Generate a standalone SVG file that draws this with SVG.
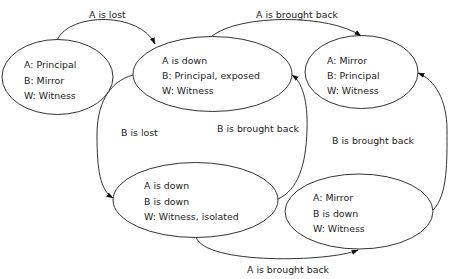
<svg xmlns="http://www.w3.org/2000/svg" width="450" height="279" viewBox="0 0 450 279">
<style>
  .st { fill: #ffffff; stroke: #333333; stroke-width: 1; }
  .tx { font-family: "DejaVu Sans", Verdana, sans-serif; font-size: 9.4px; fill: #222222; }
  .cn { fill: none; stroke: #333333; stroke-width: 1; marker-end: url(#ah); }
</style>
<defs>
  <marker id="ah" markerWidth="7" markerHeight="6" refX="6.5" refY="3" orient="auto" markerUnits="userSpaceOnUse">
    <path d="M0,0.5 L7,3 L0,5.5 Z" fill="#111111"/>
  </marker>
</defs>
<rect width="450" height="279" fill="#ffffff"/>
<g id="n1">
  <ellipse class="st" cx="57.5" cy="77" rx="55.5" ry="37.5"/>
  <text class="tx" x="24" y="68">A: Principal</text>
  <text class="tx" x="24" y="83.5">B: Mirror</text>
  <text class="tx" x="24" y="98.5">W: Witness</text>
</g>
<g id="n2">
  <ellipse class="st" cx="212.5" cy="74" rx="79.5" ry="37.5"/>
  <text class="tx" x="162" y="63.5">A is down</text>
  <text class="tx" x="162" y="78.5">B: Principal, exposed</text>
  <text class="tx" x="162" y="93.5">W: Witness</text>
</g>
<g id="n3">
  <ellipse class="st" cx="361.5" cy="72" rx="56.5" ry="36.5"/>
  <text class="tx" x="327" y="63.5">A: Mirror</text>
  <text class="tx" x="327" y="78.5">B: Principal</text>
  <text class="tx" x="327" y="93.5">W: Witness</text>
</g>
<g id="n4">
  <ellipse class="st" cx="195.5" cy="200" rx="82.5" ry="37.5"/>
  <text class="tx" x="144" y="189">A is down</text>
  <text class="tx" x="144" y="204.5">B is down</text>
  <text class="tx" x="144" y="219.5">W: Witness, isolated</text>
</g>
<g id="n5">
  <ellipse class="st" cx="359" cy="211.5" rx="74" ry="37.5"/>
  <text class="tx" x="313" y="201">A: Mirror</text>
  <text class="tx" x="313" y="216.5">B is down</text>
  <text class="tx" x="313" y="231.5">W: Witness</text>
</g>
<g id="connectors">
  <path class="cn" d="M57,40 C70,12 140,12 155,44"/>
  <text class="tx" x="89" y="17.5">A is lost</text>
  <path class="cn" d="M212,36 C240,14 330,14 361,36"/>
  <text class="tx" x="256" y="17.5">A is brought back</text>
  <path class="cn" d="M133,75 C108,82 97,105 97,135 C97,170 100,190 113,198"/>
  <text class="tx" x="121" y="135.5">B is lost</text>
  <path class="cn" d="M278,199 C298,190 306,165 307,130 C308,100 302,82 292,75"/>
  <text class="tx" x="217" y="131.5">B is brought back</text>
  <path class="cn" d="M433,210 C448,195 447,160 447,130 C447,100 435,80 418,73"/>
  <text class="tx" x="332" y="143.5">B is brought back</text>
  <path class="cn" d="M196,237 C205,265 330,262 358,250"/>
  <text class="tx" x="247" y="272.5">A is brought back</text>
</g>
</svg>
